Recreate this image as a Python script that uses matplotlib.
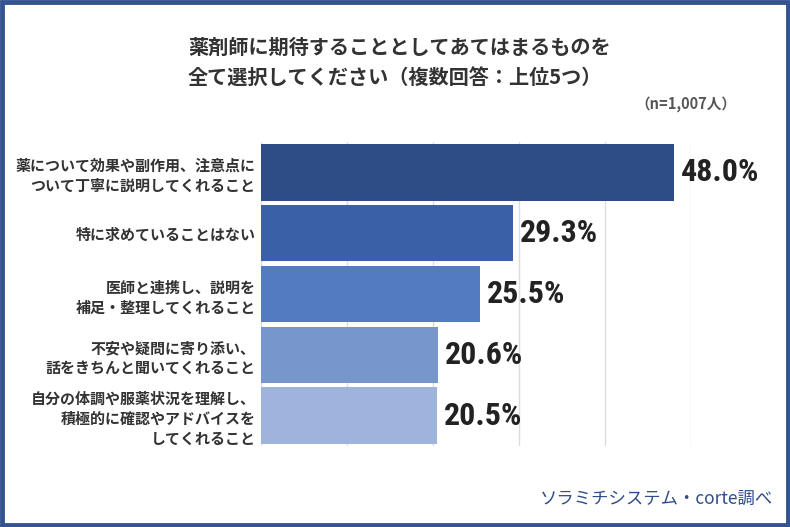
import matplotlib
matplotlib.use("Agg")
import matplotlib.pyplot as plt
from matplotlib.patches import Rectangle

plt.rcParams['font.family'] = ['Noto Sans CJK JP', 'DejaVu Sans']

# データ（上から順）
categories = [
    "薬について効果や副作用、注意点に\nついて丁寧に説明してくれること",
    "特に求めていることはない",
    "医師と連携し、説明を\n補足・整理してくれること",
    "不安や疑問に寄り添い、\n話をきちんと聞いてくれること",
    "自分の体調や服薬状況を理解し、\n積極的に確認やアドバイスを\nしてくれること",
]
values = [48.0, 29.3, 25.5, 20.6, 20.5]
colors = ["#2e4d87", "#3a60a7", "#537bc1", "#7797cc", "#9fb4dc"]
grid_ticks = [0, 10, 20, 30, 40, 50]

W, H = 790, 527
fig = plt.figure(figsize=(W / 100, H / 100), dpi=100)

# 枠線
fig.patches.append(Rectangle((0.002, 0.003), 0.996, 0.994, transform=fig.transFigure,
                             fill=False, edgecolor="#34548f", linewidth=3.5))

# 軸の位置（ピクセル → 図座標）
left, right, top, bottom = 261, 691, 142, 446
ax = fig.add_axes([left / W, 1 - bottom / H, (right - left) / W, (bottom - top) / H])

y = list(range(len(values)))
ax.barh(y, values, height=0.93, color=colors, zorder=2)
ax.set_xlim(0, 49.7)
ax.set_ylim(len(values) - 0.5, -0.5)

ax.set_xticks(grid_ticks)
ax.xaxis.grid(True, color="#dddddd", linewidth=1, zorder=0)
ax.tick_params(axis="x", length=0, labelbottom=False)
ax.set_yticks(y)
ax.set_yticklabels(categories, fontsize=10.8, fontweight="bold", color="#333333",
                   linespacing=1.3)
ax.tick_params(axis="y", length=0, pad=4)
for s in ax.spines.values():
    s.set_visible(False)

# 数値ラベル
for yi, v in zip(y, values):
    ax.annotate(f"{v:.1f}%", xy=(v, yi), xytext=(5, 0), textcoords="offset points",
                va="center", ha="left", fontsize=23, fontweight="bold", color="#222222",
                family=["Roboto Condensed", "DejaVu Sans"], annotation_clip=False)

# タイトル
fig.text(188 / W, 1 - 63 / H,
         "薬剤師に期待することとしてあてはまるものを\n全て選択してください（複数回答：上位5つ）",
         fontsize=14.5, fontweight="bold", color="#333333", ha="left", va="center",
         linespacing=1.55)
fig.text(736 / W, 1 - 104 / H, "（n=1,007人）", fontsize=10.5, fontweight="bold",
         color="#555555", ha="right", va="center")

# 出典
fig.text(773 / W, 1 - 499 / H, "ソラミチシステム・corte調べ", fontsize=12.5,
         color="#2e4d8a", ha="right", va="center")

fig.savefig("out.png", dpi=100)
